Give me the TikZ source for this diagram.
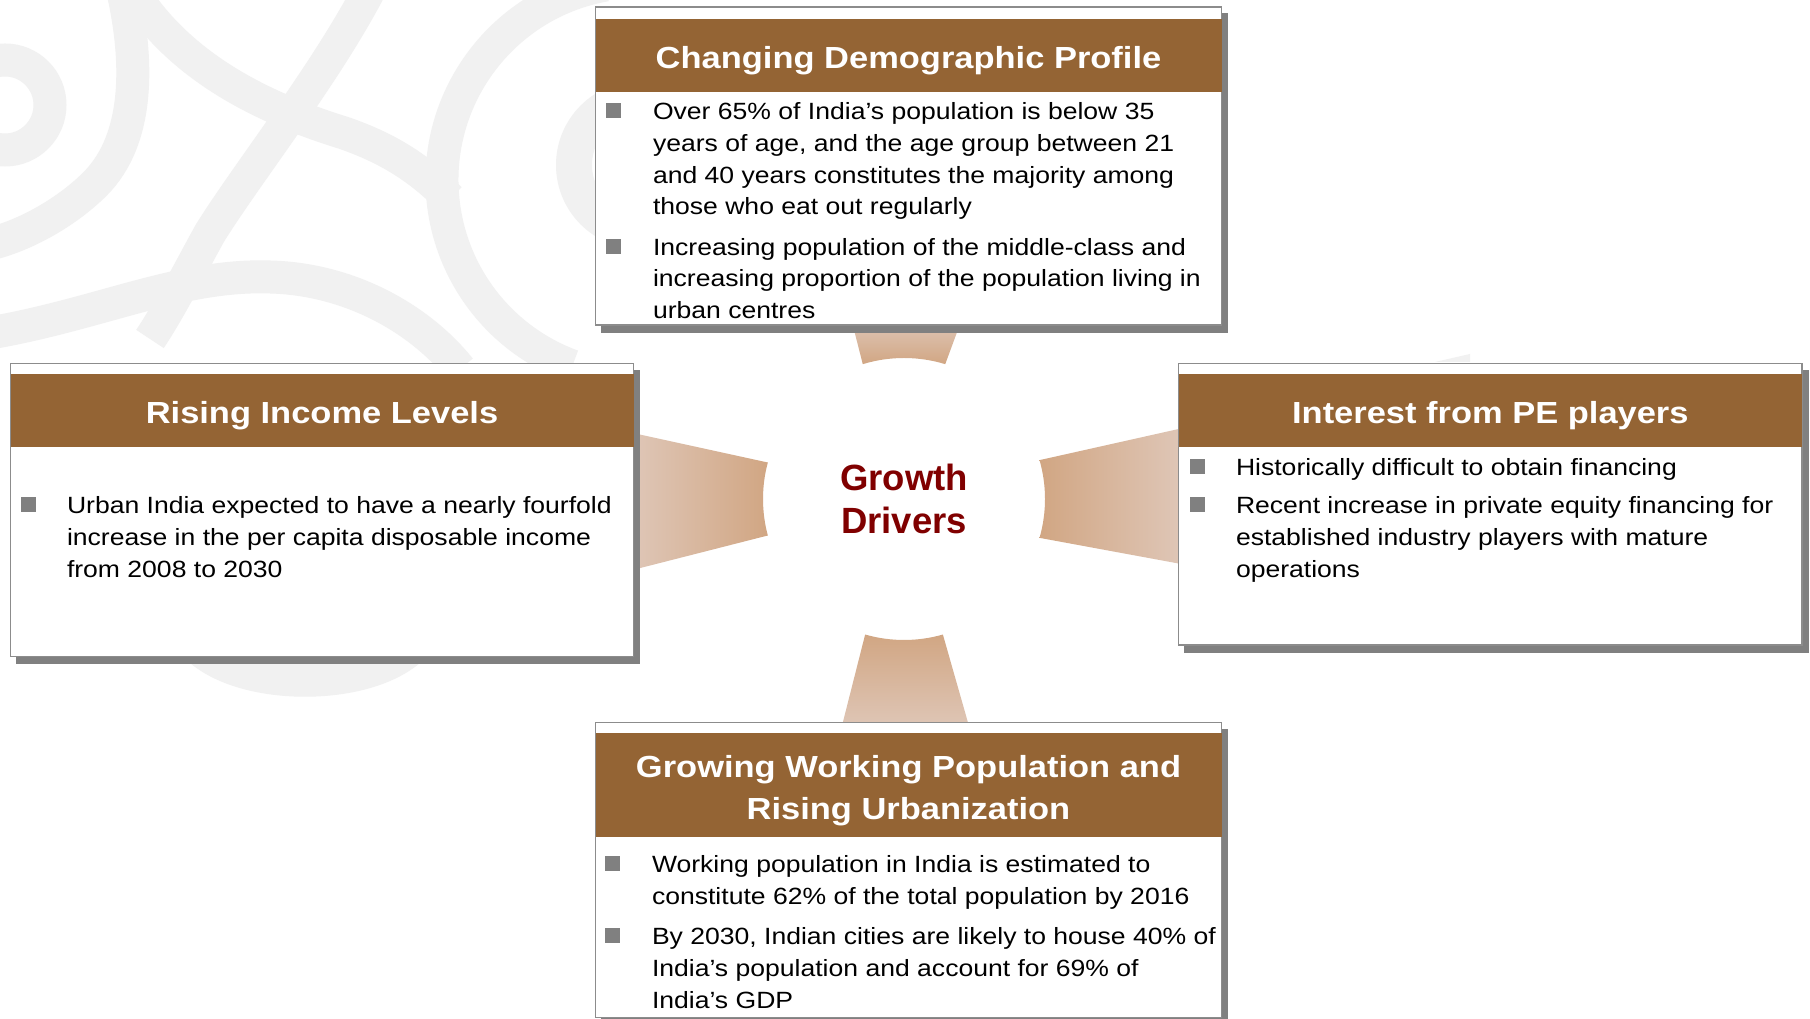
\documentclass[tikz,border=0pt]{standalone}
\usepackage{fontspec}
\setmainfont{Liberation Sans}[FakeStretch=1.13]
\newfontfamily\hubfont{Liberation Sans}
\usepackage{tikz}
\usetikzlibrary{positioning, calc, shadows, backgrounds}
\definecolor{headbrown}{RGB}{148,100,52}
\definecolor{cardline}{RGB}{140,140,140}
\definecolor{cardshadow}{RGB}{128,128,128}
\definecolor{tandark}{RGB}{209,166,131}
\definecolor{tanlight}{RGB}{223,199,184}
\definecolor{hubred}{RGB}{128,0,0}
\definecolor{swirlgray}{RGB}{241,241,241}
\tikzstyle{card} = [rectangle, draw=cardline, line width=1.5pt, fill=white, inner sep=0pt, outer sep=0pt, copy shadow={shadow xshift=6pt, shadow yshift=-7pt, fill=cardshadow, draw=cardshadow}]
\tikzstyle{cardhead} = [rectangle, fill=headbrown, text=white, inner sep=0pt, outer sep=0pt, minimum height=72.7pt, font=\fontsize{30.5}{42}\selectfont\bfseries, text height=29.4pt, text depth=3.3pt]
\tikzstyle{point} = [anchor=north west, inner sep=0pt, outer sep=0pt, align=left, font=\fontsize{23.5}{31.8}\selectfont]
\tikzstyle{sq} = [rectangle, fill=cardshadow, minimum size=15pt, inner sep=0pt]
\tikzstyle{hub} = [circle, minimum size=282pt, inner sep=0pt, outer sep=0pt, align=center, text=hubred, font=\hubfont\fontsize{36.5}{42.6}\selectfont\bfseries]
\tikzstyle{swirl} = [draw=swirlgray, line width=33pt]

\begin{document}
\begin{tikzpicture}[x=1pt, y=1pt]
			\useasboundingbox (0,0) rectangle (1810,1019);
			
			\node (hub) [hub] at (904,520) {Growth\\Drivers};
			
			\node (demo) [card, minimum width=626pt, minimum height=318pt] at (908.5,853) {};
			\node (demohead) [cardhead, minimum width=626pt, below=12.5pt of demo.north] {Changing Demographic Profile};
			\node (demo1) [point] at (653,921.75) {\strut Over 65\% of India’s population is below 35\\years of age, and the age group between 21\\and 40 years constitutes the majority among\\those who eat out regularly};
			\node (demo2) [point] at (653,786.05) {\strut Increasing population of the middle-class and\\increasing proportion of the population living in\\urban centres};
			\node (demo1sq) [sq] at (613,908.5) {};
			\node (demo2sq) [sq] at (613,772.8) {};
			
			\node (rising) [card, minimum width=623pt, minimum height=293.4pt] at (322,509) {};
			\node (risinghead) [cardhead, minimum width=623pt, below=11pt of rising.north] {Rising Income Levels};
			\node (rising1) [point] at (67,527.75) {\strut Urban India expected to have a nearly fourfold\\increase in the per capita disposable income\\from 2008 to 2030};
			\node (rising1sq) [sq] at (28,514.2) {};
			
			\node (pe) [card, minimum width=623.3pt, minimum height=281.7pt] at (1490.35,514.85) {};
			\node (pehead) [cardhead, minimum width=623.3pt, below=11pt of pe.north] {Interest from PE players};
			\node (pe1) [point] at (1236,566.05) {\strut Historically difficult to obtain financing};
			\node (pe2) [point] at (1236,527.75) {\strut Recent increase in private equity financing for\\established industry players with mature\\operations};
			\node (pe1sq) [sq] at (1197,552.5) {};
			\node (pe2sq) [sq] at (1197,514.2) {};
			
			\node (growing) [card, minimum width=626pt, minimum height=295pt] at (908.5,148.8) {};
			\node (growinghead) [cardhead, minimum width=626pt, minimum height=103.7pt, text height=72.6pt, align=center, below=10.6pt of growing.north] {Growing Working Population and\\Rising Urbanization};
			\node (growing1) [point] at (652,168.35) {\strut Working population in India is estimated to\\constitute 62\% of the total population by 2016};
			\node (growing2) [point] at (652,96.35) {\strut By 2030, Indian cities are likely to house 40\% of\\India’s population and account for 69\% of\\India’s GDP};
			\node (growing1sq) [sq] at (612.5,155) {};
			\node (growing2sq) [sq] at (612.5,83) {};
			
			\begin{pgfonlayer}{background}
			\fill [white] (0,0) rectangle (1810,1019);
			\draw [swirl] (5,914) circle [radius=45pt];
			\draw [swirl] (120,1040) .. controls (140,960) and (140,880) .. (95,835) .. controls (70,810) and (30,785) .. (-10,775);
			\draw [swirl] (125,1040) .. controls (170,960) and (250,915) .. (344,886) .. controls (390,870) and (420,850) .. (450,820);
			\draw [swirl] (375,1040) .. controls (330,950) and (250,850) .. (210,786) .. controls (190,750) and (170,710) .. (150,680);
			\draw [swirl, line width=36pt] (640,854) circle [radius=66pt];
			\draw [swirl] (640,839) ++(100:198pt) arc [start angle=100, end angle=250, radius=198pt];
			\draw [swirl] (-10,686) .. controls (100,705) and (180,745) .. (270,742) .. controls (350,740) and (420,700) .. (460,650);
			\draw [swirl] (190,380) .. controls (230,325) and (380,325) .. (420,380);
			\fill [swirlgray] (1435,657) -- (1470,665) -- (1470,657) -- cycle;
			
			\shade [top color=tanlight, bottom color=tandark] ($(demo.south)+(-57,5)$) -- (hub.107) arc [start angle=107, end angle=73, radius=141pt] -- ($(demo.south)+(53,5)$) -- cycle;
			\shade [left color=tanlight, right color=tandark] ($(rising.east)+(-3,77.5)$) -- (hub.165) arc [start angle=165, end angle=195, radius=141pt] -- ($(rising.east)+(-3,-60.5)$) -- cycle;
			\shade [left color=tandark, right color=tanlight] ($(pe.west)+(6,76.5)$) -- (hub.16) arc [start angle=16, end angle=-16, radius=141pt] -- ($(pe.west)+(6,-60.5)$) -- cycle;
			\shade [top color=tandark, bottom color=tanlight] ($(growing.north)+(-67.5,-7)$) -- (hub.254) arc [start angle=254, end angle=286, radius=141pt] -- ($(growing.north)+(61.5,-7)$) -- cycle;
			\end{pgfonlayer}
			\end{tikzpicture}
\end{document}
